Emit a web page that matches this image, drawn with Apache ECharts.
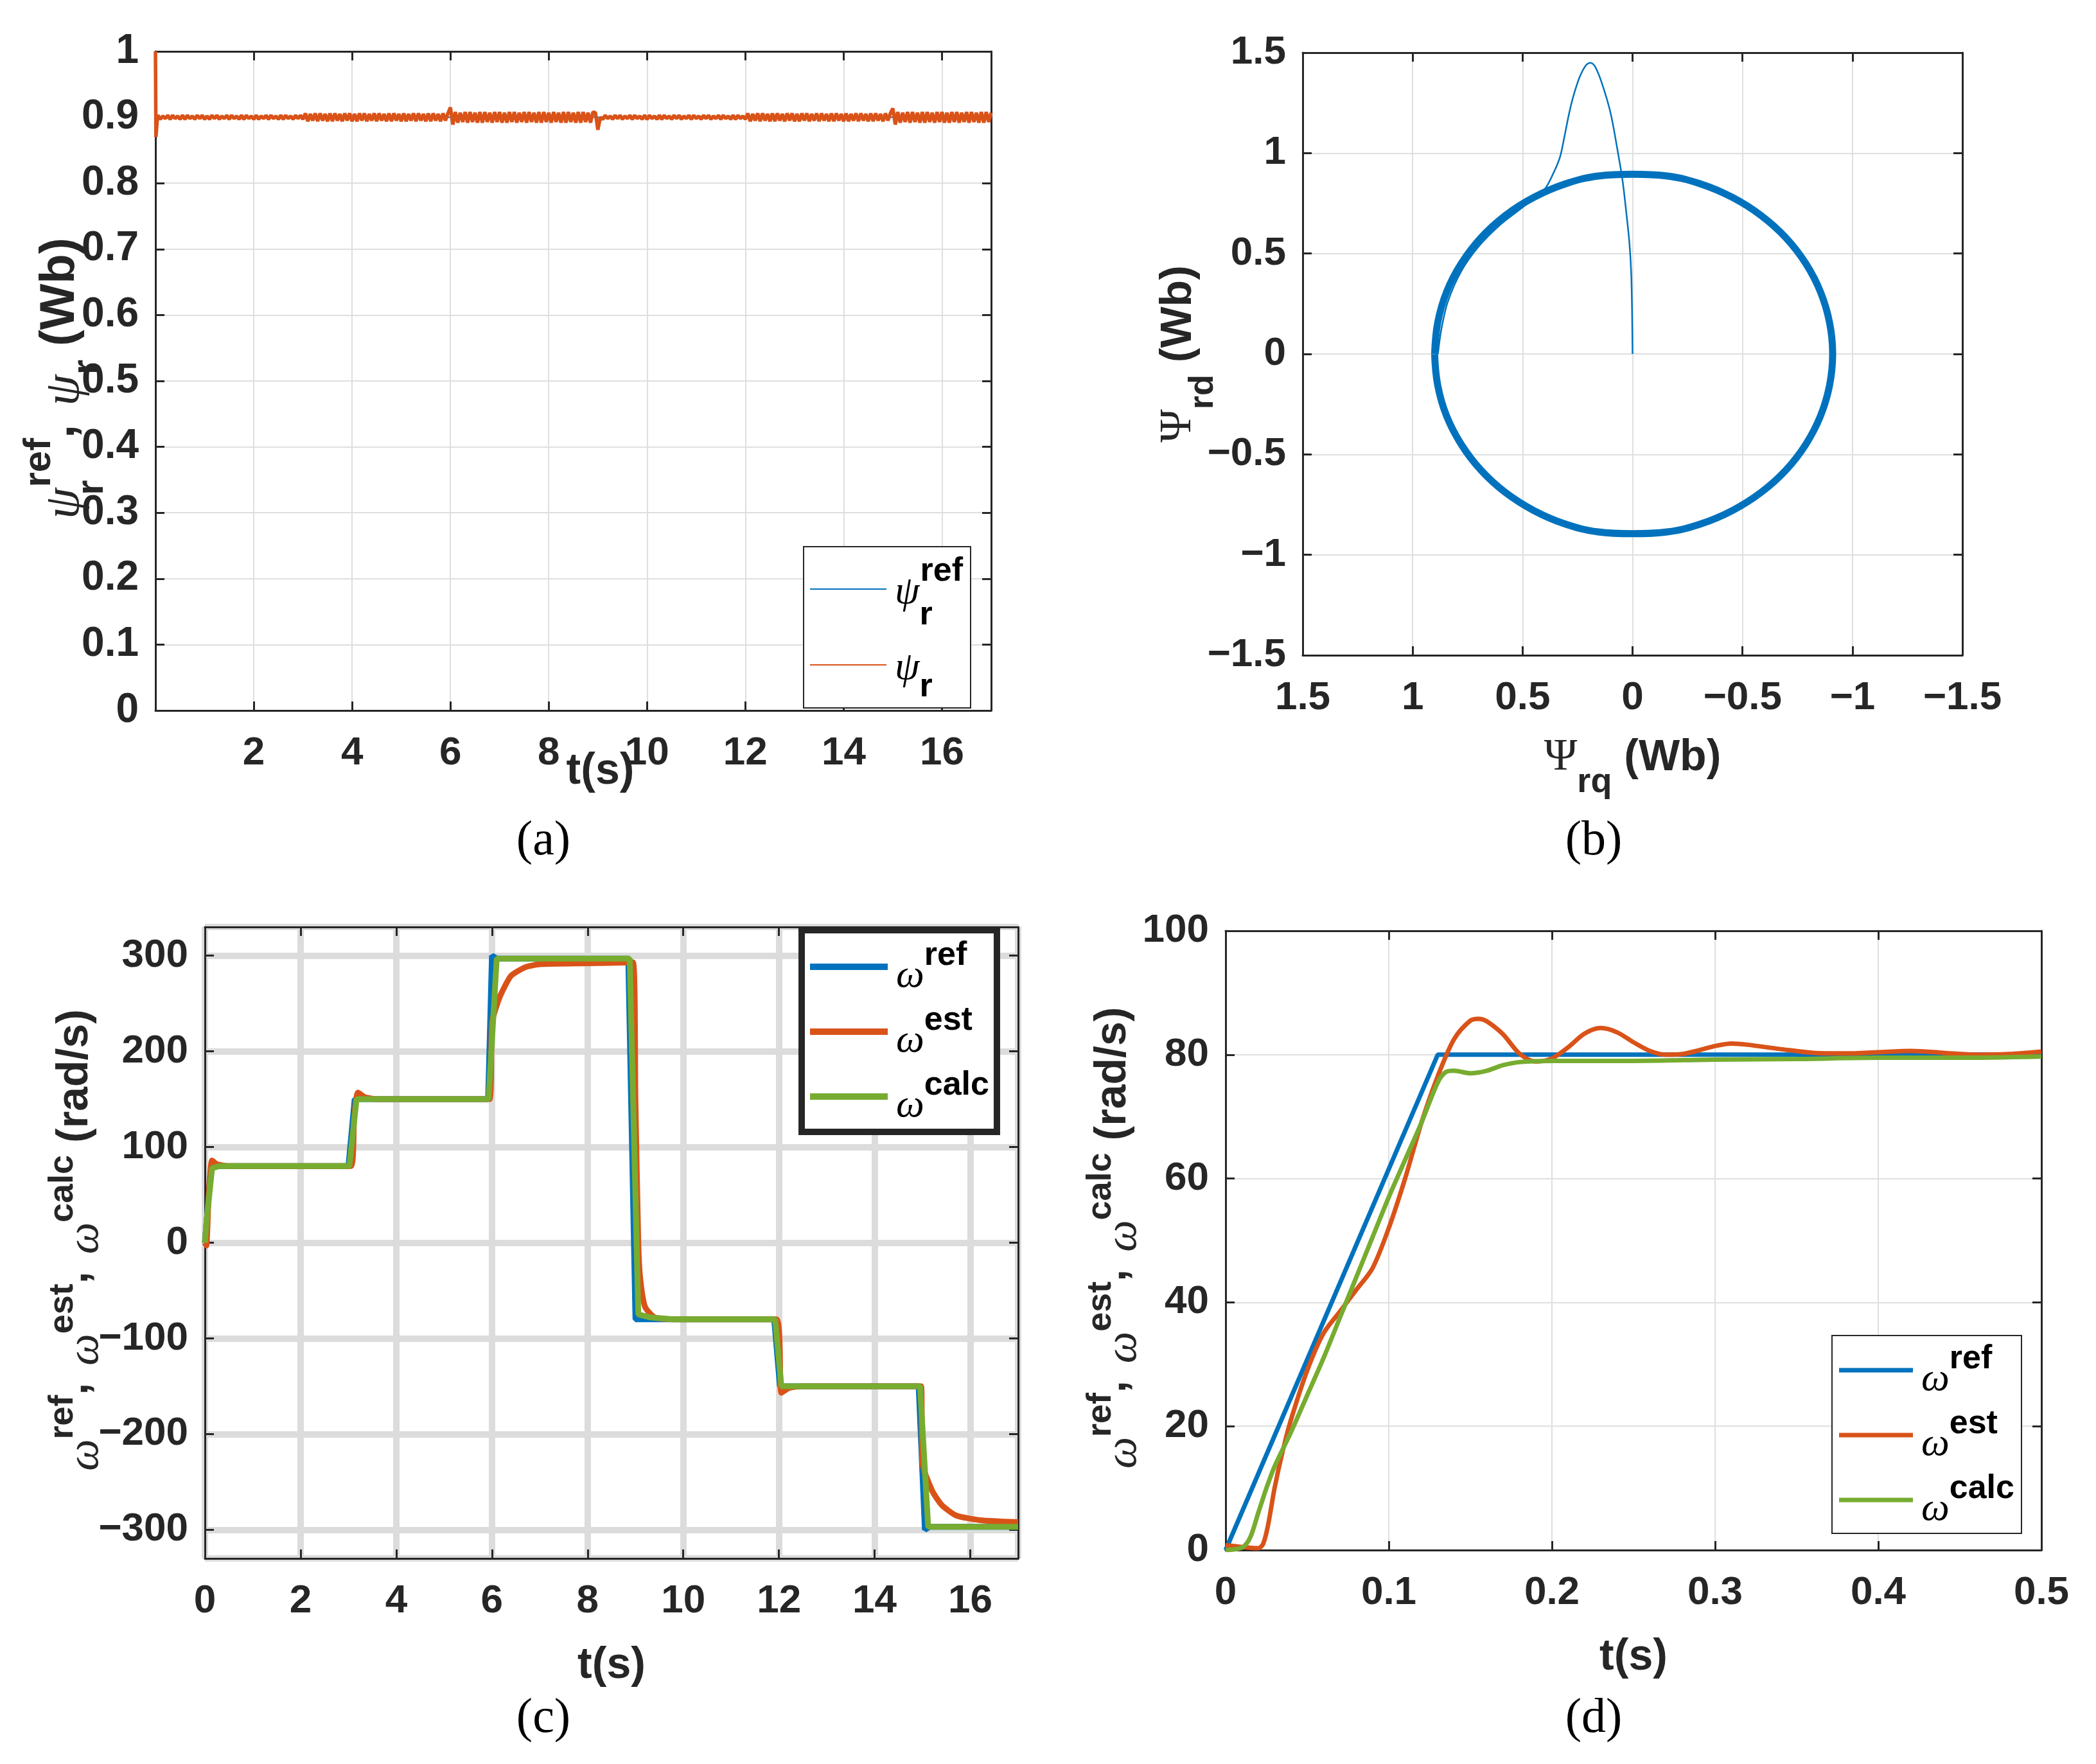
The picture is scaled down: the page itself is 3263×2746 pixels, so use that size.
<!DOCTYPE html>
<html>
<head>
<meta charset="utf-8">
<title>Rotor flux and speed</title>
<script src="https://cdn.jsdelivr.net/npm/echarts@6/dist/echarts.min.js"></script>
<style>
  html, body { margin: 0; padding: 0; background: #fff; }
  #main { width: 3263px; height: 2746px; }
</style>
</head>
<body>
<div id="main"></div>
<script>
const SANS = "'Liberation Sans', Arial, Helvetica, sans-serif";
const SERIF = "'Liberation Serif', 'DejaVu Serif', serif";
const INK = '#262626';
const BLUE = '#0072BD';
const ORANGE = '#D95319';
const GREEN = '#77AC30';

// ---- (a) rotor flux magnitude ----
const psiRefLevel = [[0, 0.9], [17, 0.9]];
const psiStart = [[0, 1.0], [0.01, 0.87], [0.04, 0.9]];
const PSI_STEP = 0.05; // one row per second, samples every 0.05 s from t = 0.05 s
const psiRipple = [
  [0.903, 0.897, 0.902, 0.898, 0.903, 0.897, 0.903, 0.898, 0.902, 0.897, 0.903, 0.897, 0.903, 0.898, 0.902, 0.897, 0.903, 0.898, 0.903, 0.897],
  [0.902, 0.897, 0.903, 0.898, 0.903, 0.897, 0.902, 0.898, 0.903, 0.897, 0.903, 0.898, 0.902, 0.897, 0.903, 0.897, 0.903, 0.898, 0.902, 0.897],
  [0.903, 0.897, 0.902, 0.898, 0.903, 0.897, 0.903, 0.898, 0.902, 0.897, 0.903, 0.897, 0.903, 0.898, 0.902, 0.897, 0.903, 0.898, 0.903, 0.897],
  [0.906, 0.894, 0.905, 0.895, 0.906, 0.894, 0.906, 0.895, 0.905, 0.894, 0.906, 0.894, 0.906, 0.895, 0.905, 0.894, 0.906, 0.895, 0.906, 0.894],
  [0.905, 0.894, 0.906, 0.895, 0.906, 0.894, 0.905, 0.895, 0.906, 0.894, 0.906, 0.895, 0.905, 0.894, 0.906, 0.894, 0.906, 0.895, 0.905, 0.894],
  [0.906, 0.894, 0.905, 0.895, 0.906, 0.894, 0.906, 0.895, 0.905, 0.894, 0.906, 0.894, 0.906, 0.895, 0.905, 0.894, 0.906, 0.895, 0.906, 0.915],
  [0.889, 0.908, 0.892, 0.907, 0.893, 0.908, 0.892, 0.908, 0.893, 0.907, 0.892, 0.908, 0.892, 0.908, 0.893, 0.907, 0.892, 0.908, 0.893, 0.908],
  [0.892, 0.907, 0.892, 0.908, 0.893, 0.908, 0.892, 0.907, 0.893, 0.908, 0.892, 0.908, 0.893, 0.907, 0.892, 0.908, 0.892, 0.908, 0.893, 0.907],
  [0.892, 0.908, 0.893, 0.907, 0.892, 0.908, 0.892, 0.908, 0.893, 0.907, 0.892, 0.908, 0.892, 0.908, 0.893, 0.907, 0.892, 0.908, 0.907, 0.881],
  [0.900, 0.897, 0.903, 0.898, 0.902, 0.897, 0.903, 0.898, 0.903, 0.897, 0.902, 0.898, 0.903, 0.897, 0.903, 0.898, 0.902, 0.897, 0.903, 0.897],
  [0.903, 0.898, 0.902, 0.897, 0.903, 0.897, 0.903, 0.898, 0.902, 0.897, 0.903, 0.898, 0.903, 0.897, 0.902, 0.898, 0.903, 0.897, 0.903, 0.898],
  [0.902, 0.897, 0.903, 0.898, 0.903, 0.897, 0.902, 0.898, 0.903, 0.897, 0.903, 0.898, 0.902, 0.897, 0.903, 0.897, 0.903, 0.898, 0.902, 0.897],
  [0.906, 0.894, 0.905, 0.895, 0.906, 0.894, 0.906, 0.895, 0.905, 0.894, 0.906, 0.894, 0.906, 0.895, 0.905, 0.894, 0.906, 0.895, 0.906, 0.894],
  [0.905, 0.894, 0.906, 0.895, 0.906, 0.894, 0.905, 0.895, 0.906, 0.894, 0.906, 0.895, 0.905, 0.894, 0.906, 0.894, 0.906, 0.895, 0.905, 0.894],
  [0.906, 0.894, 0.905, 0.895, 0.906, 0.894, 0.906, 0.895, 0.905, 0.894, 0.906, 0.894, 0.906, 0.895, 0.905, 0.894, 0.906, 0.895, 0.906, 0.9135],
  [0.889, 0.908, 0.892, 0.907, 0.893, 0.908, 0.892, 0.908, 0.893, 0.907, 0.892, 0.908, 0.892, 0.908, 0.893, 0.907, 0.892, 0.908, 0.893, 0.908],
  [0.892, 0.907, 0.892, 0.908, 0.893, 0.908, 0.892, 0.907, 0.893, 0.908, 0.892, 0.908, 0.893, 0.907, 0.892, 0.908, 0.892, 0.908, 0.893, 0.907]
];
const psiEst = psiStart.concat(
  psiRipple.flat().map((v, i) => [+((i + 1) * PSI_STEP).toFixed(2), v])
);

// ---- (b) flux locus (q, d) ----
const fluxCircle = [
  [0.90, 0], [0.886, 0.156], [0.846, 0.308], [0.779, 0.45], [0.689, 0.579],
  [0.579, 0.689], [0.45, 0.779], [0.308, 0.846], [0.156, 0.886], [0, 0.895],
  [-0.158, 0.886], [-0.311, 0.846], [-0.455, 0.779], [-0.585, 0.689], [-0.697, 0.579],
  [-0.788, 0.45], [-0.855, 0.308], [-0.896, 0.156], [-0.91, 0], [-0.896, -0.156],
  [-0.855, -0.308], [-0.788, -0.45], [-0.697, -0.579], [-0.585, -0.689], [-0.455, -0.779],
  [-0.311, -0.846], [-0.158, -0.886], [0, -0.895], [0.156, -0.886], [0.308, -0.846],
  [0.45, -0.779], [0.579, -0.689], [0.689, -0.579], [0.779, -0.45], [0.846, -0.308],
  [0.886, -0.156], [0.90, 0]
];
const fluxStart = [
  [0, 0], [0.002, 0.2], [0.006, 0.4], [0.014, 0.55], [0.03, 0.72], [0.045, 0.86],
  [0.066, 1.0], [0.1, 1.2], [0.14, 1.35], [0.17, 1.43], [0.19, 1.45], [0.21, 1.44],
  [0.24, 1.38], [0.27, 1.28], [0.29, 1.19], [0.31, 1.08], [0.33, 0.98], [0.36, 0.9],
  [0.4, 0.82], [0.5, 0.73], [0.6, 0.645], [0.7, 0.535], [0.78, 0.41], [0.84, 0.26],
  [0.87, 0.12], [0.885, 0]
];

// ---- (c) speed, full run ----
const wRefC = [
  [0, 0], [0.13, 80], [3.0, 80], [3.13, 150], [5.92, 150], [6.0, 300], [6.1, 297],
  [8.85, 297], [9.0, -80], [11.9, -80], [12.02, -150], [14.92, -150], [15.05, -300],
  [15.15, -297], [17, -297]
];
const wEstC = [
  [0, 0], [0.03, -3], [0.08, 50], [0.15, 86], [0.25, 82], [0.5, 80], [3.05, 80],
  [3.12, 130], [3.2, 157], [3.35, 152], [3.6, 150], [5.95, 150], [6.0, 230], [6.1, 248],
  [6.2, 261], [6.4, 279], [6.7, 288], [7.0, 291], [8.0, 292], [8.95, 293], [9.0, 150],
  [9.06, 0], [9.1, -37], [9.2, -67], [9.4, -78], [9.8, -80], [11.95, -80], [12.05, -157],
  [12.2, -152], [12.5, -150], [14.97, -150], [15.0, -231], [15.2, -259], [15.4, -274],
  [15.7, -285], [16.2, -290], [17, -292]
];
const wCalcC = [
  [0, 0], [0.03, 20], [0.15, 78], [0.3, 80], [3.02, 80], [3.17, 150], [5.93, 150],
  [6.1, 297], [8.88, 297], [9.06, -75], [9.3, -78], [9.8, -80], [11.92, -80],
  [12.05, -150], [14.95, -150], [15.12, -297], [17, -297]
];

// ---- (d) speed, first 0.5 s ----
const wRefD = [[0, 0], [0.13, 80], [0.5, 80]];
const wEstD = [
  [0, 0.8], [0.01, 0.5], [0.02, 0.3], [0.023, 1], [0.026, 4], [0.03, 10], [0.035, 16],
  [0.04, 21], [0.05, 29], [0.06, 35], [0.07, 38.5], [0.08, 42], [0.09, 45.5], [0.1, 52],
  [0.11, 60], [0.12, 69], [0.13, 76.5], [0.14, 82.5], [0.15, 85.5], [0.155, 85.8],
  [0.16, 85.4], [0.17, 83.3], [0.18, 80.2], [0.19, 78.9], [0.2, 79.4], [0.21, 81.2],
  [0.22, 83.4], [0.23, 84.3], [0.24, 83.6], [0.25, 82], [0.26, 80.6], [0.27, 80],
  [0.28, 80.1], [0.29, 80.7], [0.3, 81.4], [0.31, 81.8], [0.32, 81.6], [0.34, 80.9],
  [0.36, 80.3], [0.38, 80.2], [0.4, 80.4], [0.42, 80.6], [0.44, 80.3], [0.46, 80],
  [0.48, 80.1], [0.5, 80.5]
];
const wCalcD = [
  [0, 0], [0.01, 0.4], [0.015, 2], [0.02, 6], [0.025, 10], [0.03, 13.5], [0.04, 19],
  [0.05, 25], [0.06, 31], [0.07, 37.5], [0.08, 44], [0.09, 50.5], [0.1, 57], [0.11, 63],
  [0.12, 69], [0.13, 75.5], [0.135, 77.2], [0.14, 77.4], [0.15, 77], [0.16, 77.4],
  [0.17, 78.3], [0.18, 78.8], [0.2, 79], [0.25, 79], [0.3, 79.2], [0.35, 79.3],
  [0.4, 79.5], [0.45, 79.5], [0.5, 79.7]
];

// ---- text styles ----
// a rich token, shifted down (shift > 0) or up (shift < 0) inside a line of height L
function tok(base, shift, L) {
  const s = Object.assign({ lineHeight: L }, base);
  if (shift) {
    s.height = L - 2 * Math.abs(shift);
    s.verticalAlign = shift > 0 ? 'bottom' : 'top';
  }
  return s;
}
function richSet(color, big, small, L, k) {
  const sans = { fontFamily: SANS, fontWeight: 'bold', color: color };
  const serif = { fontFamily: SERIF, color: color };
  return {
    t: tok(Object.assign({ fontSize: big }, sans), 0, L),
    w: tok(Object.assign({ fontSize: big + 2, fontStyle: 'italic', padding: [0, 0, 0, 8] }, serif), 15 * k, L),
    y: tok(Object.assign({ fontSize: big + 2, fontStyle: 'italic', padding: [0, 0, 0, 8] }, serif), 6 * k, L),
    G: tok(Object.assign({ fontSize: big + 2 }, serif), 0, L),
    p: tok(Object.assign({ fontSize: small }, sans), -17 * k, L),
    q: tok(Object.assign({ fontSize: small }, sans), -27 * k, L),
    b: tok(Object.assign({ fontSize: small }, sans), 35 * k, L),
    z: tok(Object.assign({ fontSize: small, width: 1 }, sans), 41 * k, L)
  };
}
const nameRich = richSet(INK, 68, 54, 120, 1.1);
const nameRichA = richSet(INK, 76, 60, 130, 1.2);
const legRich = richSet('#000', 60, 52, 100, 1);

const legendText = {
  psiRef: '{y|ψ}{z|r}{q|ref}',
  psi: '{y|ψ}{b|r}',
  cRef: '{w|ω}{p|ref}', cEst: '{w|ω}{p|est}', cCalc: '{w|ω}{p|calc}',
  dRef: '{w|ω}{p|ref}', dEst: '{w|ω}{p|est}', dCalc: '{w|ω}{p|calc}'
};

const minus = v => String(v).replace('-', '\u2212');

function lbl(extra) {
  return Object.assign({
    show: true, margin: 30, color: INK, fontFamily: SANS, fontWeight: 'bold', fontSize: 62
  }, extra);
}

function valueAxis(o) {
  return Object.assign({
    type: 'value',
    nameMoveOverlap: false,
    nameLocation: 'middle',
    nameTextStyle: { rich: nameRich },
    axisLine: { show: true, onZero: false, lineStyle: { color: INK, width: 3 } },
    axisTick: { show: true, inside: true, length: 14, lineStyle: { color: INK, width: 3 } },
    axisLabel: lbl({}),
    splitLine: { show: true, lineStyle: { color: '#dfdfdf', width: 2 } }
  }, o);
}

function mirror(axis, position) {
  return Object.assign({}, axis, {
    position: position, name: '', axisLabel: { show: false }, splitLine: { show: false }
  });
}

const xa = valueAxis({ gridIndex: 0, min: 0, max: 17, interval: 2, position: 'bottom',
  axisLabel: lbl({ margin: 36, showMinLabel: false, showMaxLabel: false }),
  name: '{t|t(s)}', nameGap: 35, nameTextStyle: { rich: nameRich, padding: [0, 0, 0, 84] } });
const ya = valueAxis({ gridIndex: 0, min: 0, max: 1, interval: 0.1, position: 'left',
  axisLabel: lbl({ margin: 26, fontSize: 64 }),
  name: '{y|ψ}{z|r}{q|ref}{t|, }{y|ψ}{b|r}{t| (Wb)}', nameGap: 83,
  nameTextStyle: { rich: nameRichA } });

const xb = valueAxis({ gridIndex: 1, min: -1.5, max: 1.5, interval: 0.5, inverse: true, position: 'bottom',
  axisLabel: lbl({ margin: 36, formatter: minus }),
  name: '{G|Ψ}{b|rq}{t| (Wb)}', nameGap: 100 });
const yb = valueAxis({ gridIndex: 1, min: -1.5, max: 1.5, interval: 0.5, position: 'left',
  axisLabel: lbl({ margin: 26, formatter: minus }),
  name: '{G|Ψ}{b|rd}{t| (Wb)}', nameGap: 133 });

const thickGrid = { show: true, lineStyle: { color: '#dcdcdc', width: 10 } };
const xc = valueAxis({ gridIndex: 2, min: 0, max: 17, interval: 2, position: 'bottom',
  axisLabel: lbl({ margin: 36, showMaxLabel: false }), splitLine: thickGrid,
  name: '{t|t(s)}', nameGap: 107 });
const yc = valueAxis({ gridIndex: 2, min: -330, max: 330, minInterval: 100, maxInterval: 100, splitNumber: 6,
  position: 'left', axisLabel: lbl({ margin: 26, showMinLabel: false, showMaxLabel: false, formatter: minus }),
  splitLine: thickGrid,
  name: '{w|ω}{p|ref}{t|, }{w|ω}{p|est}{t|, }{w|ω}{p|calc}{t| (rad/s)}', nameGap: 142 });

const xd = valueAxis({ gridIndex: 3, min: 0, max: 0.5, interval: 0.1, position: 'bottom',
  axisLabel: lbl({ margin: 36 }),
  name: '{t|t(s)}', nameGap: 107 });
const yd = valueAxis({ gridIndex: 3, min: 0, max: 100, interval: 20, position: 'left',
  axisLabel: lbl({ margin: 26 }),
  name: '{w|ω}{p|ref}{t|, }{w|ω}{p|est}{t|, }{w|ω}{p|calc}{t| (rad/s)}', nameGap: 115 });

function line(name, panel, data, color, width, extra) {
  return Object.assign({
    name: name, type: 'line', xAxisIndex: panel * 2, yAxisIndex: panel * 2,
    data: data, symbol: 'none', showSymbol: false, silent: true,
    lineStyle: { color: color, width: width }, itemStyle: { color: color }
  }, extra || {});
}

function legend(o) {
  return Object.assign({
    orient: 'vertical', icon: 'rect',
    formatter: n => legendText[n],
    textStyle: { rich: legRich },
    borderColor: INK, borderWidth: 2, backgroundColor: '#fff',
    selectedMode: false
  }, o);
}

const panelLabel = (text, x, y) => ({
  type: 'text', x: x, y: y,
  style: { text: text, fontFamily: SERIF, fontSize: 76, fill: '#000', align: 'center', verticalAlign: 'middle' }
});

const option = {
  backgroundColor: '#fff',
  animation: false,
  grid: [
    { left: 242, top: 80, width: 1301, height: 1026, outerBoundsMode: 'none' },
    { left: 2028, top: 82, width: 1027, height: 938, outerBoundsMode: 'none' },
    { left: 319, top: 1443, width: 1266, height: 983, outerBoundsMode: 'none' },
    { left: 1908, top: 1449, width: 1270, height: 964, outerBoundsMode: 'none' }
  ],
  xAxis: [xa, mirror(xa, 'top'), xb, mirror(xb, 'top'), xc, mirror(xc, 'top'), xd, mirror(xd, 'top')],
  yAxis: [ya, mirror(ya, 'right'), yb, mirror(yb, 'right'), yc, mirror(yc, 'right'), yd, mirror(yd, 'right')],
  legend: [
    legend({ left: 1251, top: 851, data: ['psiRef', 'psi'], itemWidth: 119, itemHeight: 2,
      itemGap: 13, padding: [13, 12, 6, 10] }),
    legend({ left: 1248, top: 1448, data: ['cRef', 'cEst', 'cCalc'], itemWidth: 121, itemHeight: 10,
      itemGap: 1, padding: [7, 12, 5, 13], borderWidth: 10 }),
    legend({ left: 2852, top: 2079, data: ['dRef', 'dEst', 'dCalc'], itemWidth: 115, itemHeight: 7,
      itemGap: 1, padding: [4, 11, 2, 11] })
  ],
  graphic: [
    panelLabel('(a)', 846, 1310),
    panelLabel('(b)', 2481, 1310),
    panelLabel('(c)', 846, 2676),
    panelLabel('(d)', 2481, 2676)
  ],
  series: [
    line('psiRef', 0, psiRefLevel, BLUE, 2),
    line('psi', 0, psiEst, ORANGE, 5.5),
    line('fluxCircle', 1, fluxCircle, BLUE, 11, { smooth: 0.4 }),
    line('fluxStart', 1, fluxStart, BLUE, 2.5, { smooth: 0.3 }),
    line('cRef', 2, wRefC, BLUE, 9),
    line('cEst', 2, wEstC, ORANGE, 9, { smooth: 0.2 }),
    line('cCalc', 2, wCalcC, GREEN, 9),
    line('dRef', 3, wRefD, BLUE, 7),
    line('dEst', 3, wEstD, ORANGE, 7, { smooth: 0.3 }),
    line('dCalc', 3, wCalcD, GREEN, 7, { smooth: 0.3 })
  ]
};

const chart = echarts.init(document.getElementById('main'));
chart.setOption(option);
</script>
</body>
</html>
